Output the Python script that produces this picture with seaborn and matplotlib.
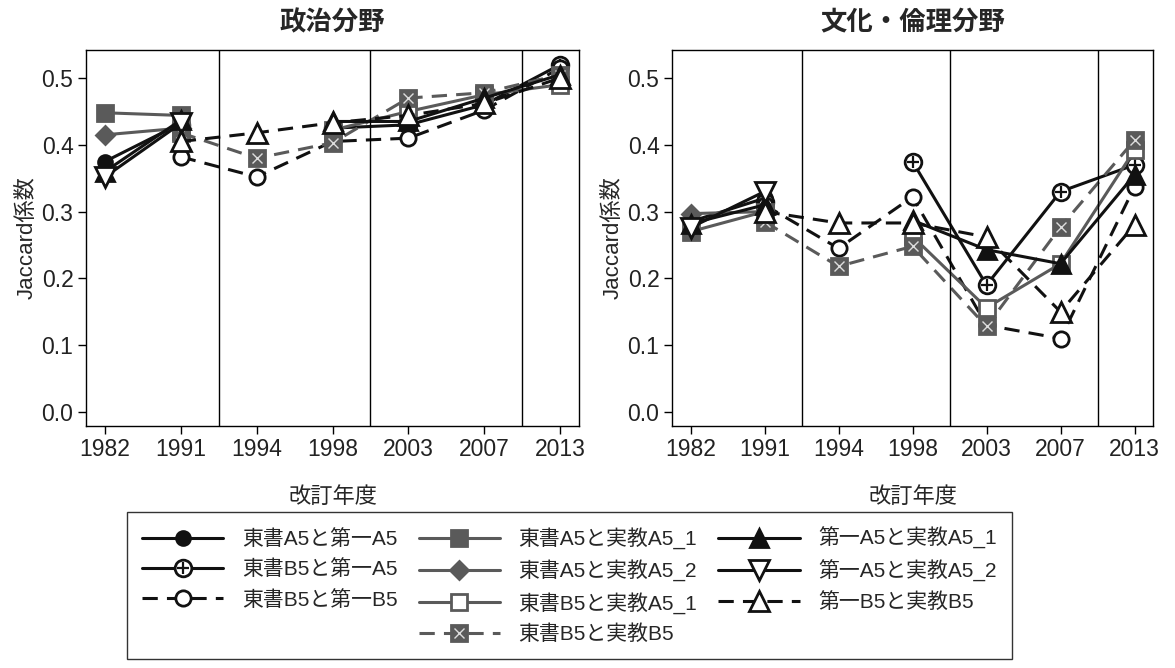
import numpy as np
import pandas as pd
import matplotlib
matplotlib.use('Agg')
import matplotlib.pyplot as plt
import seaborn as sns
from matplotlib.lines import Line2D

nan = np.nan
years = ['1982', '1991', '1994', '1998', '2003', '2007', '2013']
labels = ['東書A5と第一A5', '東書B5と第一A5', '東書B5と第一B5',
          '東書A5と実教A5_1', '東書A5と実教A5_2', '東書B5と実教A5_1', '東書B5と実教B5',
          '第一A5と実教A5_1', '第一A5と実教A5_2', '第一B5と実教B5']

# 政治分野
pol_tA_dA = [0.375, 0.432, nan, nan, nan, nan, nan]
pol_tB_dA = [nan, 0.430, nan, 0.425, 0.430, 0.460, 0.520]
pol_tB_dB = [nan, 0.382, 0.352, 0.405, 0.410, 0.452, 0.515]
pol_tA_jA1 = [0.448, 0.444, nan, nan, nan, nan, nan]
pol_tA_jA2 = [0.415, 0.425, nan, nan, nan, nan, nan]
pol_tB_jA1 = [nan, 0.420, nan, 0.422, 0.450, 0.475, 0.490]
pol_tB_jB = [nan, 0.418, 0.380, 0.403, 0.470, 0.478, 0.505]
pol_dA_jA1 = [0.360, 0.437, nan, 0.435, 0.435, 0.470, 0.505]
pol_dA_jA2 = [0.352, 0.432, nan, nan, nan, nan, nan]
pol_dB_jB = [nan, 0.405, 0.418, 0.433, 0.444, 0.462, 0.500]

# 文化・倫理分野
cul_tA_dA = [0.285, 0.320, nan, nan, nan, nan, nan]
cul_tB_dA = [nan, 0.315, nan, 0.375, 0.190, 0.330, 0.370]
cul_tB_dB = [nan, 0.310, 0.245, 0.322, 0.130, 0.110, 0.337]
cul_tA_jA1 = [0.270, 0.300, nan, nan, nan, nan, nan]
cul_tA_jA2 = [0.297, 0.300, nan, nan, nan, nan, nan]
cul_tB_jA1 = [nan, 0.295, nan, 0.263, 0.156, 0.222, 0.392]
cul_tB_jB = [nan, 0.285, 0.218, 0.248, 0.128, 0.277, 0.407]
cul_dA_jA1 = [0.282, 0.310, nan, 0.287, 0.243, 0.222, 0.355]
cul_dA_jA2 = [0.276, 0.330, nan, nan, nan, nan, nan]
cul_dB_jB = [nan, 0.300, 0.283, 0.283, 0.262, 0.150, 0.280]

pol = [pol_tA_dA, pol_tB_dA, pol_tB_dB, pol_tA_jA1, pol_tA_jA2,
       pol_tB_jA1, pol_tB_jB, pol_dA_jA1, pol_dA_jA2, pol_dB_jB]
cul = [cul_tA_dA, cul_tB_dA, cul_tB_dB, cul_tA_jA1, cul_tA_jA2,
       cul_tB_jA1, cul_tB_jB, cul_dA_jA1, cul_dA_jA2, cul_dB_jB]

K = '#111111'
G = '#5a5a5a'
DASH = (0, (5, 3))
# color, linestyle, marker, markersize, facecolor, overlay marker
styles = [
    (K, '-', 'o', 10, K, None),
    (K, '-', 'o', 12, 'white', '+'),
    (K, DASH, 'o', 11, 'white', None),
    (G, '-', 's', 11, G, None),
    (G, '-', 'D', 9, G, None),
    (G, '-', 's', 11, 'white', None),
    (G, DASH, 's', 12, G, 'x'),
    (K, '-', '^', 13, K, None),
    (K, '-', 'v', 15, 'white', None),
    (K, DASH, '^', 15, 'white', None),
]

sns.set_theme(style='ticks')
plt.rcParams['font.family'] = ['Liberation Sans', 'Noto Sans CJK JP']

W, H = 1175, 668
fig = plt.figure(figsize=(W / 100, H / 100), dpi=100)
ax1 = fig.add_axes([86 / W, 1 - 426 / H, (579 - 86) / W, (426 - 50) / H])
ax2 = fig.add_axes([672 / W, 1 - 426 / H, (1153 - 672) / W, (426 - 50) / H])


def overlay_style(ov, ms):
    if ov == '+':
        return dict(marker='+', markersize=ms * 0.75, markeredgecolor=K, markeredgewidth=1.6)
    return dict(marker='x', markersize=ms * 0.55, markeredgecolor='#dddddd', markeredgewidth=1.0)


def draw(ax, series, title):
    for vals, (col, ls, mk, ms, fc, ov) in zip(series, styles):
        df = pd.DataFrame({'x': range(len(years)), 'y': vals})
        df['seg'] = df['y'].isna().cumsum()
        df = df.dropna()
        sns.lineplot(data=df, x='x', y='y', units='seg', estimator=None, sort=False,
                     color=col, linestyle=ls, lw=2.2, marker=mk, markersize=ms,
                     markerfacecolor=fc, markeredgecolor=col, markeredgewidth=2,
                     ax=ax, legend=False)
        if ov is not None:
            sns.lineplot(data=df, x='x', y='y', units='seg', estimator=None, sort=False,
                         linestyle='none', color=K, ax=ax, legend=False,
                         **overlay_style(ov, ms))
    for v in [1.5, 3.5, 5.5]:
        ax.axvline(v, color='black', lw=1)
    ax.set_xlim(-0.25, 6.25)
    ax.set_ylim(-0.021, 0.542)
    ax.set_xticks(range(len(years)))
    ax.set_xticklabels(years)
    ax.set_yticks([0, 0.1, 0.2, 0.3, 0.4, 0.5])
    ax.set_yticklabels(['0.0', '0.1', '0.2', '0.3', '0.4', '0.5'])
    ax.tick_params(labelsize=16.5, length=6, width=1, pad=3, color='black', labelcolor='#222222')
    for s in ax.spines.values():
        s.set_color('black')
        s.set_linewidth(1)
    ax.set_title(title, fontsize=19, fontweight='bold', pad=14)
    ax.set_xlabel('改訂年度', fontsize=16, labelpad=18)
    ax.set_ylabel('Jaccard係数', fontsize=16, labelpad=3)


draw(ax1, pol, '政治分野')
draw(ax2, cul, '文化・倫理分野')

handles = []
for lab, (col, ls, mk, ms, fc, ov) in zip(labels, styles):
    h = Line2D([], [], color=col, linestyle=ls, lw=2.2, marker=mk, markersize=ms,
               markerfacecolor=fc, markeredgecolor=col, markeredgewidth=2)
    if ov is not None:
        h = (h, Line2D([], [], linestyle='none', **overlay_style(ov, ms)))
    handles.append(h)

blank = Line2D([], [], linestyle='none', marker='none')
order_h = handles[0:3] + [blank] + handles[3:7] + handles[7:10] + [blank]
order_l = labels[0:3] + [''] + labels[3:7] + labels[7:10] + ['']

leg = fig.legend(order_h, order_l, ncol=3, loc='upper left',
                 bbox_to_anchor=(127 / W, 1 - 660 / H, (1012 - 127) / W, (660 - 512) / H),
                 mode='expand', fontsize=15, handlelength=3.9, handletextpad=0.9,
                 labelspacing=0.5, numpoints=1, frameon=True, fancybox=False,
                 borderpad=0.72, borderaxespad=0)
leg.get_frame().set_edgecolor('black')
leg.get_frame().set_linewidth(1)

fig.savefig('out.png', dpi=100)
